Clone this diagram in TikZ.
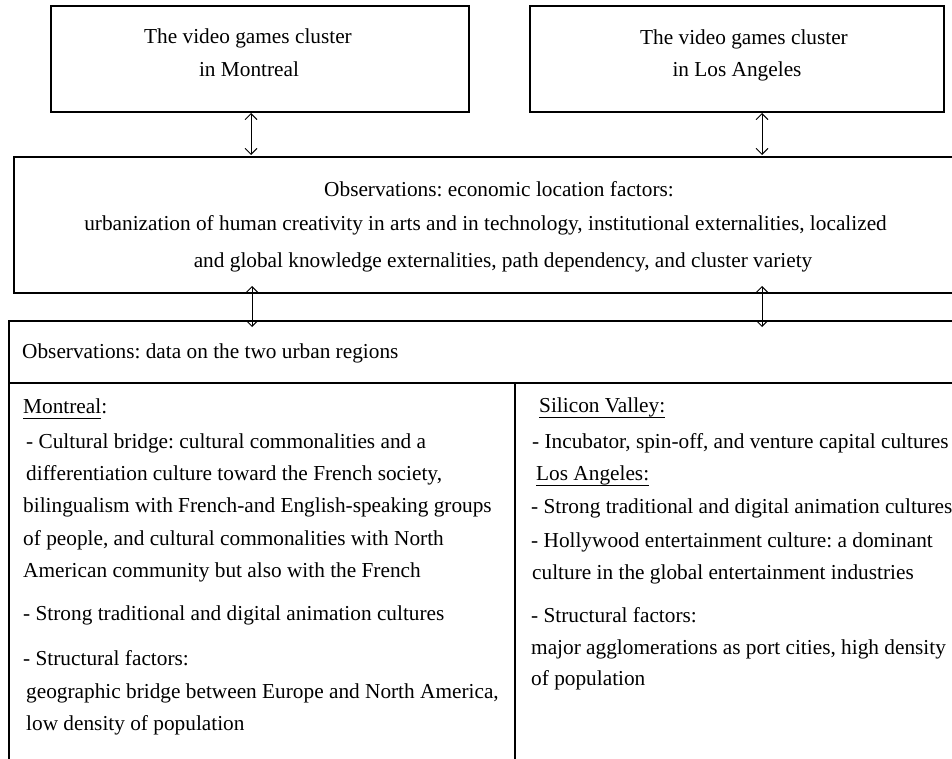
\documentclass[tikz,border=0pt]{standalone}
\usepackage{fontspec}
\setmainfont{Liberation Serif}
\usetikzlibrary{arrows.meta}
\frenchspacing
\newcommand\myul[1]{\setbox0\hbox{#1}\rlap{\rule[-5.5pt]{\wd0}{0.9pt}}\box0}
\begin{document}
\begin{tikzpicture}[x=1pt,y=-1pt,
  font=\fontsize{21.3}{25}\selectfont\frenchspacing,
  frame/.style={draw, line width=1.2pt, inner sep=0pt, outer sep=0pt},
  txt/.style={inner sep=0pt, anchor=base west},
  ctxt/.style={inner sep=0pt, anchor=base},
  dbl/.style={{Straight Barb[length=6pt,width=12pt]}-{Straight Barb[length=6pt,width=12pt]}, line width=0.9pt}]
\path[use as bounding box] (0,0) rectangle (952,759);
\clip (0,0) rectangle (952,759);
% top boxes
\node[frame, minimum width=418pt, minimum height=106pt] (mtl) at (260,59) {};
\node[frame, minimum width=414pt, minimum height=106pt] (la) at (737,59) {};
\node[ctxt] (mtl1) at (248,44) {The video games cluster};
\node[ctxt] (mtl2) at (249,77) {in Montreal};
\node[ctxt] (la1) at (744,45) {The video games cluster};
\node[ctxt] (la2) at (737,77) {in Los Angeles};
% observations box
\node[frame, minimum width=976pt, minimum height=136pt] (obs) at (502,225) {};
\node[ctxt] (obs1) at (499,197) {Observations: economic location factors:};
\node[ctxt] (obs2) at (485.5,231) {urbanization of human creativity in arts and in technology, institutional externalities, localized};
\node[ctxt] (obs3) at (503,267) {and global knowledge externalities, path dependency, and cluster variety};
% data box
\node[frame, minimum width=981pt, minimum height=479pt] (data) at (499.5,560.5) {};
\draw[line width=1.2pt] (data.west |- 0,383) -- (data.east |- 0,383);
\draw[line width=1.2pt] (515,383) -- (515,800);
\node[txt] (d0) at (22,358) {Observations: data on the two urban regions};
% left column
\node[txt] (m0) at (23,413) {\myul{Montreal}:};
\node[txt] (m1) at (26,448) {- Cultural bridge: cultural commonalities and a};
\node[txt] (m2) at (26,480) {differentiation culture toward the French society,};
\node[txt] (m3) at (23,512) {bilingualism with French-and English-speaking groups};
\node[txt] (m4) at (23,545) {of people, and cultural commonalities with North};
\node[txt] (m5) at (23,577) {American community but also with the French};
\node[txt] (m6) at (23,620) {- Strong traditional and digital animation cultures};
\node[txt] (m7) at (23,665) {- Structural factors:};
\node[txt] (m8) at (26,698) {geographic bridge between Europe and North America,};
\node[txt] (m9) at (26,730) {low density of population};
% right column
\node[txt] (r0) at (539,412) {\myul{Silicon Valley:}};
\node[txt] (r1) at (532,448) {- Incubator, spin-off, and venture capital cultures};
\node[txt] (r2) at (536,480) {\myul{Los Angeles:}};
\node[txt] (r3) at (531,513) {- Strong traditional and digital animation cultures};
\node[txt] (r4) at (531,547) {- Hollywood entertainment culture: a dominant};
\node[txt] (r5) at (532,579) {culture in the global entertainment industries};
\node[txt] (r6) at (531,622) {- Structural factors:};
\node[txt] (r7) at (531,654) {major agglomerations as port cities, high density};
\node[txt] (r8) at (531,685) {of population};
% arrows
\coordinate (xa) at (251,0);
\coordinate (xb) at (762,0);
\coordinate (xc) at (252,0);
\draw[dbl, shorten <=1pt, shorten >=2pt] (mtl.south -| xa) -- (obs.north -| xa);
\draw[dbl, shorten <=1pt, shorten >=2pt] (la.south -| xb) -- (obs.north -| xb);
\draw[dbl, shorten <=-7pt, shorten >=-6pt] (obs.south -| xc) -- (data.north -| xc);
\draw[dbl, shorten <=-7pt, shorten >=-6pt] (obs.south -| xb) -- (data.north -| xb);
\end{tikzpicture}
\end{document}
